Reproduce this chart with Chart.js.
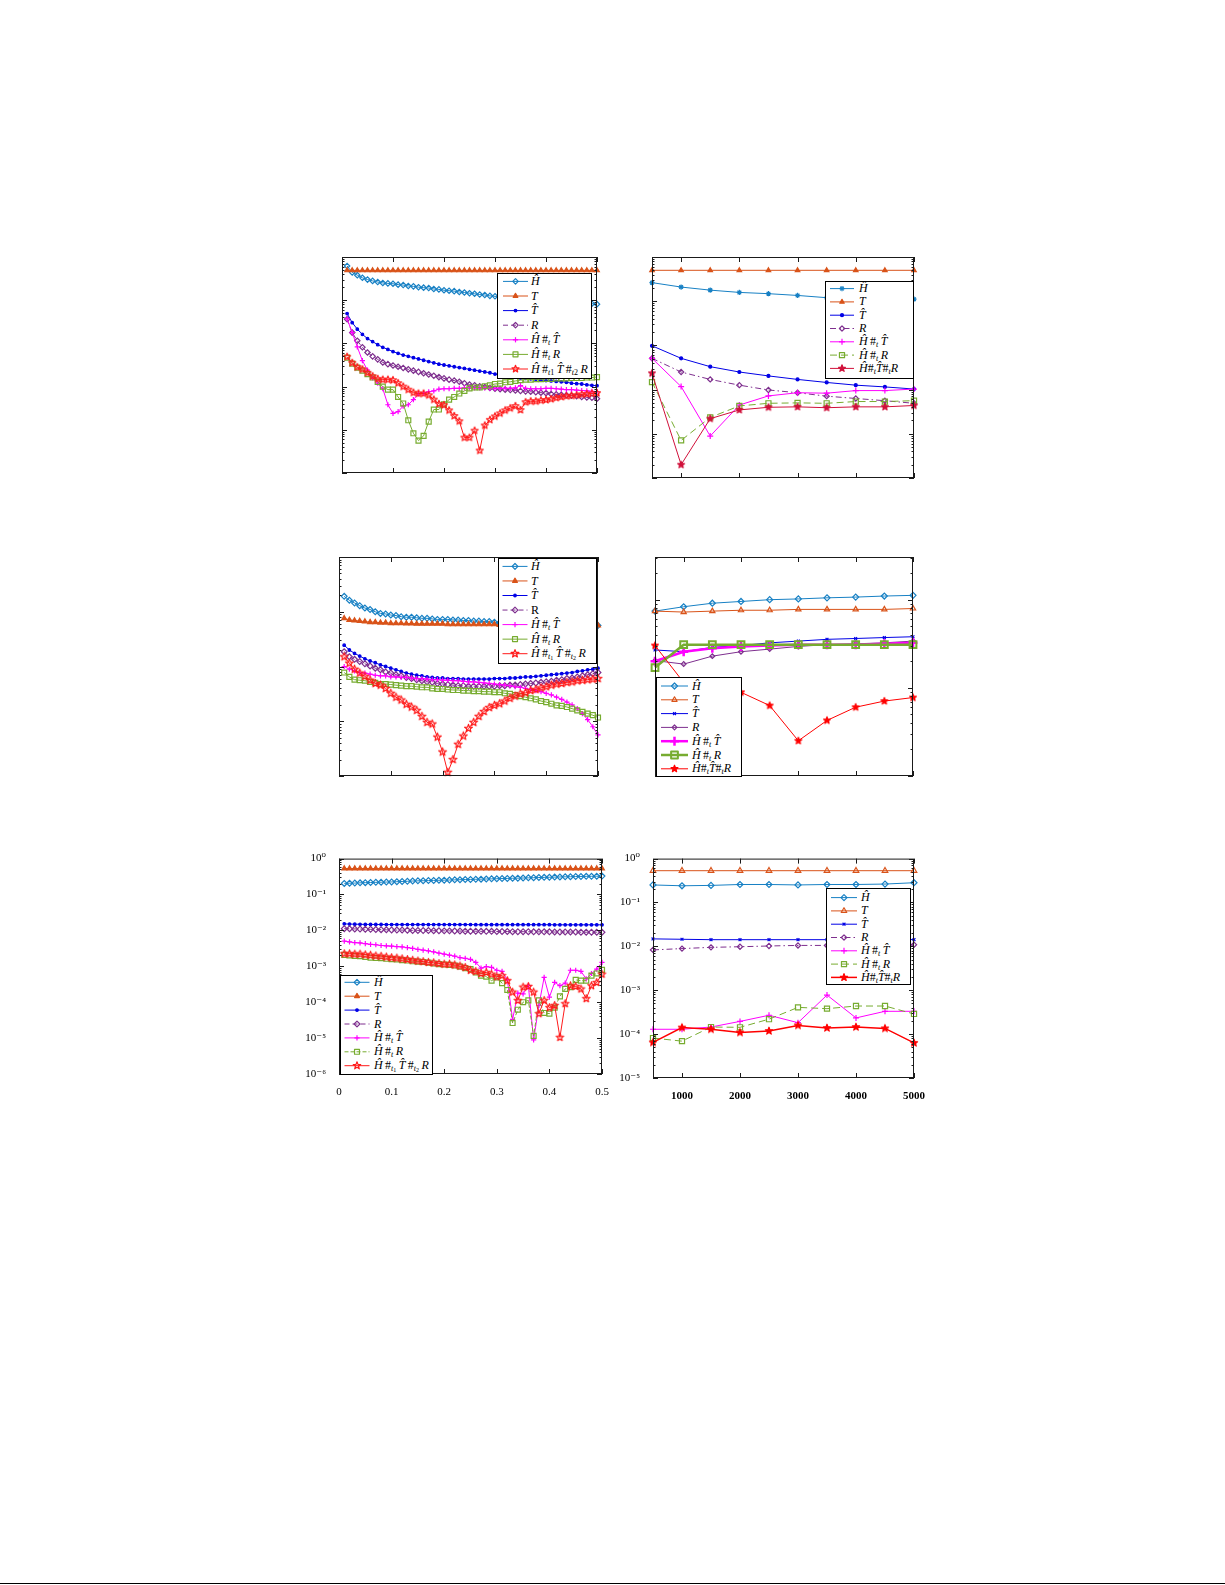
<!DOCTYPE html>
<html><head><meta charset="utf-8">
<script src="https://cdn.jsdelivr.net/npm/chart.js@4.4.1/dist/chart.umd.min.js"></script>
<style>
html,body{margin:0;padding:0;background:#fff;}
body{width:1225px;height:1585px;position:relative;overflow:hidden;}
canvas.cv{position:absolute;}
.leg{position:absolute;background:#fff;border:1px solid #000;box-sizing:border-box;font-family:'Liberation Serif','DejaVu Serif',serif;font-size:12px;color:#000;}
.leg svg{position:absolute;left:0;top:0;overflow:visible;}
.leg .txt{position:absolute;white-space:nowrap;line-height:1;}
.leg sub{font-size:8px;vertical-align:-2px;line-height:0;}
.leg sub sub{font-size:6px;vertical-align:-1px;}
.pageline{position:absolute;left:0;top:1583px;width:1225px;height:1px;background:#000;}
</style></head>
<body>
<div class="pageline"></div>
<script>
// ---------------- x values ----------------
const xFrac = [0.01,0.02,0.03,0.04,0.05,0.06,0.07,0.08,0.09,0.10,
  0.11,0.12,0.13,0.14,0.15,0.16,0.17,0.18,0.19,0.20,
  0.21,0.22,0.23,0.24,0.25,0.26,0.27,0.28,0.29,0.30,
  0.31,0.32,0.33,0.34,0.35,0.36,0.37,0.38,0.39,0.40,
  0.41,0.42,0.43,0.44,0.45,0.46,0.47,0.48,0.49,0.50];
const xN = [500,1000,1500,2000,2500,3000,3500,4000,4500,5000];
const xTicksFrac = [0,0.1,0.2,0.3,0.4,0.5];
const xTicksN = [1000,2000,3000,4000,5000];

// ---------------- panel 1 (top left) ----------------
const p1_H = [0.62,0.44,0.38,0.33,0.30,0.28,0.263,0.251,0.245,0.240,
  0.229,0.224,0.214,0.209,0.200,0.195,0.191,0.182,0.178,0.170,
  0.166,0.162,0.155,0.151,0.145,0.141,0.135,0.132,0.126,0.123,
  0.120,0.117,0.115,0.112,0.110,0.107,0.105,0.102,0.101,0.099,
  0.097,0.095,0.093,0.091,0.089,0.087,0.086,0.085,0.083,0.081];
const p1_T = [0.49,0.49,0.49,0.49,0.49,0.49,0.49,0.49,0.49,0.49,
  0.49,0.49,0.49,0.49,0.49,0.49,0.49,0.49,0.49,0.49,
  0.49,0.49,0.49,0.49,0.49,0.49,0.49,0.49,0.49,0.49,
  0.49,0.49,0.49,0.49,0.49,0.49,0.49,0.49,0.49,0.49,
  0.49,0.49,0.49,0.49,0.49,0.49,0.49,0.49,0.49,0.49];
const p1_Th = [0.049,0.0302,0.0214,0.0162,0.0129,0.0110,0.00933,0.00813,0.00724,0.00646,
  0.00589,0.00537,0.00501,0.00468,0.00437,0.00407,0.0038,0.00355,0.00331,0.00316,
  0.00302,0.00288,0.00275,0.00263,0.00251,0.0024,0.00229,0.00219,0.00209,0.00195,
  0.00186,0.00182,0.00174,0.00166,0.00158,0.00155,0.00151,0.00148,0.00141,0.00138,
  0.00135,0.00132,0.00129,0.00126,0.0012,0.00117,0.00115,0.0011,0.00107,0.00105];
const p1_R = [0.0363,0.0178,0.0115,0.00813,0.00617,0.00501,0.00427,0.00363,0.00331,0.00309,
  0.00288,0.00269,0.00251,0.00234,0.00219,0.00204,0.00191,0.00178,0.00166,0.00155,
  0.00145,0.00138,0.00129,0.0012,0.00112,0.00107,0.00102,0.000977,0.000933,0.000891,
  0.000871,0.000851,0.000832,0.000813,0.000794,0.000776,0.000759,0.000741,0.000724,0.000708,
  0.000676,0.000661,0.000646,0.000631,0.000617,0.000603,0.000575,0.000562,0.00055,0.000525];
const p1_HT = [0.0372,0.0178,0.0083,0.00398,0.0024,0.00158,0.0012,0.000891,0.00038,0.00024,
  0.000263,0.000355,0.00038,0.000501,0.000676,0.000708,0.000759,0.000794,0.000871,0.000891,
  0.000891,0.000912,0.000912,0.000933,0.000933,0.000933,0.000933,0.000933,0.000912,0.000912,
  0.000912,0.000912,0.000912,0.000933,0.00105,0.000912,0.000891,0.000891,0.000891,0.000912,
  0.000912,0.000891,0.000871,0.000851,0.000851,0.000832,0.000813,0.000794,0.000776,0.000759];
const p1_HR = [0.00468,0.00339,0.00275,0.00234,0.00195,0.00162,0.00129,0.001,0.000851,0.000851,
  0.000575,0.000407,0.000166,0.0000832,0.0000562,0.0000724,0.000155,0.000295,0.000295,0.000389,
  0.000501,0.000575,0.000692,0.000794,0.000912,0.000955,0.000955,0.00102,0.00107,0.00115,
  0.00117,0.00126,0.00129,0.00135,0.00141,0.00145,0.00145,0.00148,0.00148,0.00151,
  0.00151,0.00155,0.00155,0.00155,0.00158,0.00158,0.00158,0.00162,0.00162,0.00166];
const p1_HTR = [0.0049,0.00355,0.00282,0.00251,0.00209,0.00174,0.00151,0.00145,0.00145,0.00141,
  0.0012,0.001,0.000851,0.000724,0.000692,0.000692,0.000631,0.000501,0.000398,0.000372,
  0.000282,0.000209,0.000158,0.0000661,0.0000661,0.0000955,0.0000331,0.000126,0.00017,0.000204,
  0.00024,0.000282,0.000316,0.000355,0.000288,0.000437,0.000457,0.000457,0.000479,0.00049,
  0.000513,0.00055,0.000575,0.000603,0.000617,0.000631,0.000661,0.000676,0.000692,0.000708];

// ---------------- panel 2 (top right) ----------------
const p2_H = [0.263,0.209,0.178,0.158,0.148,0.135,0.120,0.115,0.113,0.111];
const p2_T = [0.5,0.5,0.5,0.5,0.5,0.5,0.5,0.5,0.5,0.5];
const p2_Th = [0.0098,0.0051,0.0033,0.0025,0.00204,0.0017,0.00145,0.00126,0.00115,0.00103];
const p2_R = [0.0051,0.0025,0.0017,0.00126,0.00098,0.00085,0.00071,0.00063,0.00056,0.00049];
const p2_HT = [0.0051,0.00117,0.000089,0.000447,0.00072,0.00085,0.00083,0.00095,0.00095,0.00103];
const p2_HR = [0.00148,0.0000708,0.000235,0.000427,0.00049,0.000501,0.00049,0.000537,0.000537,0.000562];
const p2_HTR = [0.00234,0.00002,0.00022,0.000347,0.000398,0.000407,0.000389,0.000407,0.000407,0.000437];

// ---------------- panel 3 (middle left) ----------------
const p3_H = [0.191,0.162,0.145,0.129,0.117,0.110,0.100,0.0933,0.0912,0.0871,
  0.0851,0.0813,0.0794,0.0794,0.0776,0.0759,0.0759,0.0741,0.0724,0.0724,
  0.0724,0.0708,0.0708,0.0692,0.0692,0.0676,0.0676,0.0661,0.0661,0.0646,
  0.0631,0.0631,0.0631,0.0617,0.0617,0.0617,0.0603,0.0603,0.0603,0.0603,
  0.0589,0.0589,0.0589,0.0575,0.0575,0.0575,0.0575,0.0562,0.0562,0.0562];
const p3_T = [0.0759,0.0708,0.0692,0.0676,0.0661,0.0646,0.0646,0.0631,0.0631,0.0617,
  0.0617,0.0617,0.0610,0.0610,0.0603,0.0603,0.0603,0.0603,0.0603,0.0603,
  0.0589,0.0589,0.0589,0.0589,0.0589,0.0589,0.0589,0.0589,0.0589,0.0589,
  0.0575,0.0575,0.0575,0.0575,0.0575,0.0575,0.0575,0.0575,0.0575,0.0575,
  0.0562,0.0562,0.0562,0.0562,0.0562,0.0562,0.0562,0.0562,0.0562,0.0562];
const p3_Th = [0.0245,0.0200,0.0174,0.0155,0.0138,0.0126,0.0117,0.0107,0.0100,0.00933,
  0.00871,0.00813,0.00759,0.00724,0.00692,0.00676,0.00646,0.00631,0.00617,0.00617,
  0.00603,0.00603,0.00603,0.00589,0.00589,0.00589,0.00589,0.00589,0.00589,0.00603,
  0.00603,0.00603,0.00617,0.00617,0.00631,0.00646,0.00646,0.00661,0.00676,0.00692,
  0.00708,0.00724,0.00741,0.00759,0.00776,0.00813,0.00832,0.00871,0.00891,0.00933];
const p3_R = [0.0186,0.0151,0.0135,0.0123,0.0112,0.0102,0.00933,0.00871,0.00794,0.00759,
  0.00708,0.00676,0.00631,0.00603,0.00575,0.0055,0.00525,0.00513,0.0049,0.00479,
  0.00468,0.00457,0.00447,0.00447,0.00437,0.00437,0.00437,0.00437,0.00437,0.00437,
  0.00447,0.00447,0.00457,0.00457,0.00468,0.00479,0.0049,0.00501,0.00513,0.00525,
  0.00537,0.00562,0.00575,0.00603,0.00617,0.00646,0.00676,0.00708,0.00741,0.00776];
const p3_HT = [0.0100,0.00891,0.00832,0.00776,0.00759,0.00724,0.00692,0.00676,0.00676,0.00646,
  0.00646,0.00631,0.00631,0.00617,0.00603,0.00603,0.00589,0.00575,0.00575,0.00562,
  0.00562,0.0055,0.0055,0.00537,0.00525,0.00525,0.00513,0.00501,0.0049,0.00479,
  0.00468,0.00457,0.00447,0.00427,0.00417,0.00398,0.0038,0.00363,0.00347,0.00324,
  0.00302,0.00275,0.00251,0.00224,0.002,0.0017,0.00138,0.00107,0.000794,0.000562];
const p3_HR = [0.00776,0.00646,0.00575,0.00562,0.0055,0.00525,0.00501,0.00479,0.00479,0.00468,
  0.00457,0.00447,0.00437,0.00437,0.00427,0.00417,0.00417,0.00398,0.00389,0.00389,
  0.0038,0.00372,0.00372,0.00363,0.00363,0.00355,0.00355,0.00347,0.00347,0.00339,
  0.00339,0.00324,0.00316,0.00302,0.00288,0.00275,0.00263,0.00251,0.00234,0.00224,
  0.00209,0.00195,0.00191,0.00182,0.0017,0.00158,0.00148,0.00138,0.00129,0.00117];
const p3_HTR = [0.0151,0.0115,0.00891,0.00759,0.00661,0.00562,0.0049,0.00457,0.00398,0.00324,
  0.00275,0.00245,0.00204,0.00182,0.00158,0.00123,0.000955,0.000891,0.000513,0.000275,
  0.000117,0.0002,0.00038,0.000537,0.000741,0.000955,0.00123,0.00151,0.00178,0.00195,
  0.00209,0.00234,0.00263,0.00288,0.00316,0.00331,0.00363,0.0038,0.00407,0.00427,
  0.00457,0.00479,0.0049,0.00513,0.00525,0.0055,0.00562,0.00575,0.00589,0.00603];

// ---------------- panel 4 (middle right) ----------------
const p4_H = [0.0742,0.0832,0.0912,0.0955,0.100,0.102,0.105,0.107,0.110,0.112];
const p4_T = [0.0742,0.0724,0.0742,0.0759,0.0759,0.0776,0.0776,0.0776,0.0776,0.0794];
const p4_Th = [0.0269,0.0257,0.0288,0.0302,0.0324,0.0339,0.0355,0.0363,0.0372,0.038];
const p4_R = [0.0204,0.0186,0.0229,0.0257,0.0275,0.0295,0.0309,0.0316,0.0324,0.0339];
const p4_HT = [0.020,0.0257,0.0282,0.0295,0.0302,0.0309,0.0309,0.0309,0.0316,0.0324];
const p4_HR = [0.0170,0.0309,0.0309,0.0309,0.0309,0.0309,0.0309,0.0309,0.0309,0.0309];
const p4_HTR = [0.0302,0.0115,0.0102,0.0089,0.0063,0.00251,0.00427,0.00603,0.00708,0.00776];

// ---------------- panel 5 (bottom left) ----------------
const p5_H = [0.204,0.206,0.208,0.211,0.214,0.216,0.218,0.220,0.222,0.224,
  0.227,0.230,0.233,0.237,0.240,0.242,0.244,0.247,0.249,0.251,
  0.253,0.256,0.258,0.261,0.263,0.265,0.268,0.270,0.273,0.275,
  0.278,0.280,0.283,0.285,0.288,0.291,0.294,0.297,0.300,0.302,
  0.305,0.308,0.311,0.313,0.316,0.318,0.320,0.321,0.323,0.325];
const p5_T = [0.53,0.53,0.53,0.53,0.53,0.53,0.53,0.53,0.53,0.53,
  0.53,0.53,0.53,0.53,0.53,0.53,0.53,0.53,0.53,0.53,
  0.53,0.53,0.53,0.53,0.53,0.53,0.53,0.53,0.53,0.53,
  0.53,0.53,0.53,0.53,0.53,0.53,0.53,0.53,0.53,0.53,
  0.53,0.53,0.53,0.53,0.53,0.53,0.53,0.53,0.53,0.53];
const p5_Th = [0.0152,0.0150,0.0149,0.0148,0.0147,0.0147,0.0146,0.0146,0.0145,0.0145,
  0.0145,0.0145,0.0145,0.0145,0.0145,0.0145,0.0145,0.0145,0.0145,0.0145,
  0.0145,0.0145,0.0145,0.0145,0.0145,0.0144,0.0144,0.0144,0.0144,0.0144,
  0.0144,0.0144,0.0144,0.0144,0.0144,0.0144,0.0144,0.0144,0.0144,0.0144,
  0.0143,0.0143,0.0143,0.0143,0.0143,0.0143,0.0143,0.0143,0.0143,0.0143];
const p5_R = [0.0112,0.0111,0.0110,0.0109,0.0108,0.0107,0.0106,0.0105,0.0104,0.0103,
  0.0102,0.0102,0.0101,0.0100,0.0100,0.0099,0.0099,0.0098,0.0098,0.0097,
  0.0097,0.0096,0.0096,0.0095,0.0095,0.0095,0.0094,0.0094,0.0094,0.0093,
  0.0093,0.0093,0.0092,0.0092,0.0092,0.0092,0.0091,0.0091,0.0091,0.0091,
  0.0090,0.0090,0.0090,0.0090,0.0090,0.0089,0.0089,0.0089,0.0089,0.0089];
const p5_HT = [0.0050,0.00479,0.00457,0.00447,0.00427,0.00407,0.00398,0.0038,0.00372,0.00365,
  0.00355,0.00347,0.00331,0.00316,0.00295,0.00282,0.00269,0.00251,0.00234,0.00219,
  0.00204,0.00191,0.00174,0.00166,0.00155,0.00129,0.000891,0.000977,0.000933,0.000776,
  0.000724,0.000417,0.0000331,0.000178,0.00017,0.000288,0.0000089,0.0000813,0.00049,0.000138,
  0.000355,0.000288,0.000339,0.000776,0.000776,0.000724,0.000447,0.000631,0.000832,0.00129];
const p5_HR = [0.00209,0.00200,0.00195,0.00191,0.00182,0.00174,0.00170,0.00168,0.00162,0.00158,
  0.00155,0.00148,0.00145,0.00138,0.00135,0.00132,0.00126,0.00120,0.00115,0.00112,
  0.00110,0.00105,0.000977,0.000891,0.000832,0.000676,0.00055,0.000513,0.000398,0.00049,
  0.000339,0.000219,0.0000263,0.0000617,0.0001,0.000112,0.0000115,0.000112,0.0000501,0.0000479,
  0.0000708,0.000145,0.000234,0.000263,0.000417,0.000398,0.000398,0.00055,0.000631,0.000794];
const p5_HTR = [0.00224,0.00224,0.00219,0.00219,0.00209,0.00204,0.00195,0.00191,0.00182,0.00174,
  0.0017,0.00162,0.00155,0.00148,0.00141,0.00135,0.00129,0.00126,0.0012,0.00115,
  0.00115,0.0011,0.00102,0.000933,0.000776,0.000724,0.000631,0.000676,0.000603,0.000513,
  0.00055,0.000398,0.000191,0.000112,0.000263,0.000275,0.000191,0.0000479,0.000112,0.0000708,
  0.0000813,0.0000105,0.0000912,0.000288,0.000275,0.000234,0.000126,0.000288,0.000355,0.000603];

// ---------------- panel 6 (bottom right) ----------------
const p6_H = [0.251,0.24,0.245,0.257,0.257,0.251,0.257,0.257,0.263,0.282];
const p6_T = [0.53,0.53,0.53,0.53,0.53,0.53,0.53,0.53,0.53,0.53];
const p6_Th = [0.0148,0.0145,0.0142,0.0142,0.0142,0.0142,0.0142,0.0142,0.0142,0.0143];
const p6_R = [0.0083,0.0089,0.0095,0.0098,0.0102,0.0105,0.0105,0.0107,0.0107,0.0109];
const p6_HT = [0.000129,0.000129,0.000145,0.000195,0.000269,0.000182,0.000776,0.000234,0.000331,0.000331];
const p6_HR = [0.0000813,0.0000692,0.000145,0.000143,0.000219,0.000407,0.00038,0.000437,0.000437,0.000288];
const p6_HTR = [0.0000646,0.000141,0.000129,0.000109,0.000118,0.000158,0.000138,0.000145,0.000135,0.0000631];

// ---------------- legend labels ----------------
const lblH = '<i>Ĥ</i>', lblT = '<i>T</i>', lblTh = '<i>T̂</i>', lblR = '<i>R</i>';
const lblHT = '<i>Ĥ</i>&thinsp;#<sub><i>t</i></sub>&thinsp;<i>T̂</i>';
const lblHR = '<i>Ĥ</i>&thinsp;#<sub><i>t</i></sub>&thinsp;<i>R</i>';
const lblHTR_a = '<i>Ĥ</i>&thinsp;#<sub><i>t</i>1</sub>&thinsp;<i>T̂</i>&thinsp;#<sub><i>t</i>2</sub>&thinsp;<i>R</i>';
const lblHTR_b = '<i>Ĥ</i>&thinsp;#<sub><i>t</i><sub>1</sub></sub>&thinsp;<i>T̂</i>&thinsp;#<sub><i>t</i><sub>2</sub></sub>&thinsp;<i>R</i>';
const lblHTR_c = '<i>Ĥ</i>#<sub><i>t</i></sub><i>T̂</i>#<sub><i>t</i></sub><i>R</i>';
const SUP = {'0':'⁰','1':'¹','2':'²','3':'³','4':'⁴','5':'⁵','6':'⁶','7':'⁷','8':'⁸','9':'⁹','-':'⁻'};

// ---------------- styles ----------------
const C = {H:'#1780C4', T:'#D95319', Th:'#0000E6', R:'#7E2F8E', HT:'#FF00FF', HR:'#77AC30', HTR:'#FF1A1A'};
const DASH = [5,3], DASHDOT = [6,3,1.5,3];

const penCache = {};
function pentagram(r, color, filled, lw) {
  const key = r + color + filled + lw;
  if (penCache[key]) return penCache[key];
  const s = Math.ceil(2 * r + 2 * lw + 2);
  const c = document.createElement('canvas'); c.width = s; c.height = s;
  const g = c.getContext('2d');
  g.beginPath();
  for (let k = 0; k < 10; k++) {
    const a = -Math.PI / 2 + k * Math.PI / 5, rr = (k % 2) ? r * 0.42 : r;
    const px = s / 2 + rr * Math.cos(a), py = s / 2 + rr * Math.sin(a);
    if (k) g.lineTo(px, py); else g.moveTo(px, py);
  }
  g.closePath();
  if (filled) { g.fillStyle = color; g.fill(); }
  g.strokeStyle = color; g.lineWidth = lw; g.lineJoin = 'round'; g.stroke();
  return penCache[key] = c;
}

function st(color, ps, r, opt) { return Object.assign({color, ps, r, lw: 1, plw: 1.2, fill: false, dash: []}, opt || {}); }

const panels = [
  { L:342, T:257, W:255, H:216, xs:xFrac, xmin:0, xmax:0.5, xticks:xTicksFrac, ymin:1e-5, ymax:1, labels:false, boldX:false,
    series:[p1_H,p1_T,p1_Th,p1_R,p1_HT,p1_HR,p1_HTR],
    styles:[st(C.H,'rectRot',2.7), st(C.T,'triangle',2.7,{fill:true}), st(C.Th,'circle',1.3,{fill:true}),
            st(C.R,'rectRot',2.7,{dash:DASH}), st(C.HT,'cross',2.6), st(C.HR,'rect',3.5), st(C.HTR,'penta',3.7)],
    legend:{left:497, top:273, w:95, h:106, first:8.4, rowH:14.6, sx0:5, sx1:30, tx:33,
            labels:[lblH,lblT,lblTh,lblR,lblHT,lblHR,lblHTR_a]} },
  { L:652, T:257, W:262, H:221, xs:xN, xmin:500, xmax:5000, xticks:xTicksN, ymin:1e-5, ymax:1, labels:false, boldX:false,
    series:[p2_H,p2_T,p2_Th,p2_R,p2_HT,p2_HR,p2_HTR],
    styles:[st(C.H,'star',2.6), st(C.T,'triangle',2.6,{fill:true}), st(C.Th,'circle',1.5,{fill:true}),
            st(C.R,'rectRot',2.6,{dash:DASHDOT}), st(C.HT,'cross',3), st(C.HR,'rect',3.6,{dash:[7,4]}), st('#D0103A','penta',3.6,{fill:true})],
    legend:{left:825, top:281, w:89, h:98, first:7.6, rowH:13.3, sx0:4, sx1:28, tx:33,
            labels:[lblH,lblT,lblTh,lblR,lblHT,lblHR,lblHTR_c]} },
  { L:339, T:557, W:259, H:219, xs:xFrac, xmin:0, xmax:0.5, xticks:xTicksFrac, ymin:1e-4, ymax:1, labels:false, boldX:false,
    series:[p3_H,p3_T,p3_Th,p3_R,p3_HT,p3_HR,p3_HTR],
    styles:[st(C.H,'rectRot',2.9), st(C.T,'triangle',2.8,{fill:true}), st(C.Th,'circle',1.3,{fill:true}),
            st(C.R,'rectRot',2.9,{dash:DASH}), st(C.HT,'cross',2.6), st(C.HR,'rect',3.5), st(C.HTR,'penta',4.1)],
    legend:{left:498, top:558, w:99, h:106, first:8.4, rowH:14.55, sx0:3.5, sx1:28.5, tx:32,
            labels:[lblH,lblT,lblTh,'R',lblHT,lblHR,lblHTR_b]} },
  { L:655, T:557, W:258, H:219, xs:xN, xmin:500, xmax:5000, xticks:xTicksN, ymin:1e-3, ymax:0.305, labels:false, boldX:false,
    series:[p4_H,p4_T,p4_Th,p4_R,p4_HT,p4_HR,p4_HTR],
    styles:[st(C.H,'rectRot',3), st(C.T,'triangle',3), st(C.Th,'crossRot',2),
            st(C.R,'rectRot',2.4), st(C.HT,'cross',4.5,{lw:2.5,plw:2.5}), st(C.HR,'rect',4.8,{lw:2.5,plw:2}), st('#FF0000','penta',3.6,{fill:true})],
    legend:{left:656, top:677, w:86, h:100, first:9, rowH:13.8, sx0:4, sx1:31, tx:35,
            labels:[lblH,lblT,lblTh,lblR,lblHT,lblHR,lblHTR_c]} },
  { L:339, T:857, W:263, H:217, xs:xFrac, xmin:0, xmax:0.5, xticks:xTicksFrac, ymin:1e-6, ymax:1, labels:true, boldX:false,
    series:[p5_H,p5_T,p5_Th,p5_R,p5_HT,p5_HR,p5_HTR],
    styles:[st(C.H,'rectRot',2.9), st(C.T,'triangle',2.8,{fill:true}), st(C.Th,'circle',1.3,{fill:true}),
            st(C.R,'rectRot',2.9,{dash:DASH}), st(C.HT,'cross',2.6), st(C.HR,'rect',3.5,{dash:[4,2]}), st(C.HTR,'penta',3.9)],
    legend:{left:340, top:975, w:93, h:100, first:7.3, rowH:13.9, sx0:3.5, sx1:28.5, tx:33,
            labels:[lblH,lblT,lblTh,lblR,lblHT,lblHR,lblHTR_b]} },
  { L:653, T:857, W:261, H:221, xs:xN, xmin:500, xmax:5000, xticks:xTicksN, ymin:1e-5, ymax:1, labels:true, boldX:true,
    series:[p6_H,p6_T,p6_Th,p6_R,p6_HT,p6_HR,p6_HTR],
    styles:[st(C.H,'rectRot',3), st(C.T,'triangle',3.2), st(C.Th,'crossRot',2),
            st(C.R,'rectRot',2.6,{dash:DASHDOT}), st(C.HT,'cross',3), st(C.HR,'rect',3.6,{dash:[7,4]}), st('#FF0000','penta',3.8,{fill:true,lw:1.5})],
    legend:{left:826, top:888, w:85, h:97, first:9.6, rowH:13.3, sx0:4, sx1:30, tx:34,
            labels:[lblH,lblT,lblTh,lblR,lblHT,lblHR,lblHTR_c]} }
];

// ---------------- inner ticks + box plugin ----------------
const innerTicks = {
  id: 'innerTicks',
  afterDatasetsDraw(chart, args, opts) {
    const ctx = chart.ctx, a = chart.chartArea, x = chart.scales.x, y = chart.scales.y;
    ctx.save();
    ctx.strokeStyle = '#1a1a1a'; ctx.lineWidth = 1;
    ctx.beginPath();
    const lo = Math.floor(Math.log10(y.min)), hi = Math.ceil(Math.log10(y.max));
    for (let e = lo; e <= hi; e++) {
      for (let k = 1; k <= 9; k++) {
        const v = k * Math.pow(10, e);
        if (v < y.min * 0.9999 || v > y.max * 1.0001) continue;
        const p = Math.round(y.getPixelForValue(v)) + 0.5;
        const len = k === 1 ? 5 : 2.5;
        ctx.moveTo(a.left, p); ctx.lineTo(a.left + len, p);
        ctx.moveTo(a.right, p); ctx.lineTo(a.right - len, p);
      }
    }
    for (const v of opts.xticks) {
      const p = Math.round(x.getPixelForValue(v)) + 0.5;
      ctx.moveTo(p, a.bottom); ctx.lineTo(p, a.bottom - 5);
      ctx.moveTo(p, a.top); ctx.lineTo(p, a.top + 5);
    }
    ctx.stroke();
    ctx.strokeRect(a.left + 0.5, a.top + 0.5, a.right - a.left - 1, a.bottom - a.top - 1);
    ctx.restore();
  }
};

function supLabel(v) {
  const e = Math.log10(v), r = Math.round(e);
  if (Math.abs(e - r) > 1e-6) return '';
  return '10' + String(r).split('').map(ch => SUP[ch]).join('');
}

function markerSVG(s, cx, cy) {
  const r = s.r, c = s.color, f = s.fill ? c : 'none', w = s.plw;
  const P = (pts) => `<polygon points="${pts.map(p => p[0].toFixed(2) + ',' + p[1].toFixed(2)).join(' ')}" fill="${f}" stroke="${c}" stroke-width="${w}" stroke-linejoin="round"/>`;
  const L = (x1, y1, x2, y2) => `<line x1="${x1}" y1="${y1}" x2="${x2}" y2="${y2}" stroke="${c}" stroke-width="${w}"/>`;
  switch (s.ps) {
    case 'rectRot': return P([[cx, cy - r], [cx + r, cy], [cx, cy + r], [cx - r, cy]]);
    case 'rect': { const h = r * Math.SQRT1_2; return P([[cx - h, cy - h], [cx + h, cy - h], [cx + h, cy + h], [cx - h, cy + h]]); }
    case 'triangle': return P([0, 1, 2].map(k => { const t = k * 2 * Math.PI / 3; return [cx + Math.sin(t) * r, cy - Math.cos(t) * r]; }));
    case 'circle': return `<circle cx="${cx}" cy="${cy}" r="${r}" fill="${f}" stroke="${c}" stroke-width="${w}"/>`;
    case 'cross': return L(cx - r, cy, cx + r, cy) + L(cx, cy - r, cx, cy + r);
    case 'crossRot': { const d = r * Math.SQRT1_2; return L(cx - d, cy - d, cx + d, cy + d) + L(cx - d, cy + d, cx + d, cy - d); }
    case 'star': { const d = r * Math.SQRT1_2; return L(cx - r, cy, cx + r, cy) + L(cx, cy - r, cx, cy + r) + L(cx - d, cy - d, cx + d, cy + d) + L(cx - d, cy + d, cx + d, cy - d); }
    case 'penta': {
      const pts = [];
      for (let k = 0; k < 10; k++) { const t = -Math.PI / 2 + k * Math.PI / 5, rr = (k % 2) ? r * 0.42 : r; pts.push([cx + rr * Math.cos(t), cy + rr * Math.sin(t)]); }
      return P(pts);
    }
  }
  return '';
}

panels.forEach((pn) => {
  const cv = document.createElement('canvas');
  cv.className = 'cv';
  cv.width = pn.W + 70; cv.height = pn.H + 40;
  cv.style.left = (pn.L - 50) + 'px'; cv.style.top = (pn.T - 10) + 'px';
  document.body.appendChild(cv);

  const n = pn.series.length;
  const datasets = pn.series.map((ys, i) => {
    const s = pn.styles[i];
    return {
      label: 'series' + i,
      data: pn.xs.map((xv, j) => ({x: xv, y: ys[j]})),
      borderColor: s.color, borderWidth: s.lw, borderDash: s.dash,
      pointStyle: s.ps === 'penta' ? pentagram(s.r, s.color, s.fill, s.plw) : s.ps,
      pointRadius: s.r, pointBorderWidth: s.plw, pointBorderColor: s.color,
      pointBackgroundColor: s.fill ? s.color : 'rgba(0,0,0,0)',
      pointHoverRadius: s.r, fill: false, tension: 0, clip: 10, order: n - i
    };
  });

  const yFont = {family: "'Liberation Serif','DejaVu Serif',serif", size: 11};
  const xFont = {family: "'Liberation Serif','DejaVu Serif',serif", size: 11, weight: pn.boldX ? 'bold' : 'normal'};
  new Chart(cv, {
    type: 'line',
    data: {datasets},
    plugins: [innerTicks],
    options: {
      responsive: false, animation: false, devicePixelRatio: 1, events: [],
      layout: {padding: {left: 5, top: 10, right: 20, bottom: 5}},
      plugins: {legend: {display: false}, tooltip: {enabled: false}, innerTicks: {xticks: pn.xticks}},
      scales: {
        x: {
          type: 'linear', min: pn.xmin, max: pn.xmax,
          grid: {display: false}, border: {display: false},
          afterFit: (s) => { s.height = 25; },
          ticks: {
            display: pn.labels, autoSkip: false, maxRotation: 0, padding: 4, color: '#000', font: xFont,
            stepSize: pn.xmax > 10 ? 500 : 0.1,
            callback: (v) => {
              if (pn.xmax > 10) return (Math.abs(v % 1000) < 1e-6) ? String(v) : '';
              const s = Math.round(v * 10) / 10; return s === 0 ? '0' : String(s);
            }
          }
        },
        y: {
          type: 'logarithmic', min: pn.ymin, max: pn.ymax,
          grid: {display: false}, border: {display: false},
          afterFit: (s) => { s.width = 45; },
          ticks: {display: pn.labels, autoSkip: false, padding: 5, color: '#000', font: yFont, callback: (v) => supLabel(v)}
        }
      }
    }
  });

  // HTML legend
  const lg = pn.legend;
  const box = document.createElement('div');
  box.className = 'leg';
  box.style.left = lg.left + 'px'; box.style.top = lg.top + 'px';
  box.style.width = lg.w + 'px'; box.style.height = lg.h + 'px';
  let html = '';
  pn.styles.forEach((s, i) => {
    const cy = lg.first + i * lg.rowH - 1;
    const mid = (lg.sx0 + lg.sx1) / 2;
    const dash = s.dash.length ? ` stroke-dasharray="${s.dash.join(',')}"` : '';
    html += `<svg width="${lg.w}" height="${lg.h}" style="left:0;top:0"><line x1="${lg.sx0}" y1="${cy}" x2="${lg.sx1}" y2="${cy}" stroke="${s.color}" stroke-width="${s.lw}"${dash}/>${markerSVG(s, mid, cy)}</svg>`;
    html += `<span class="txt" style="left:${lg.tx}px;top:${(cy - 6.5).toFixed(1)}px">${lg.labels[i]}</span>`;
  });
  box.innerHTML = html;
  document.body.appendChild(box);
});
</script>
</body></html>
